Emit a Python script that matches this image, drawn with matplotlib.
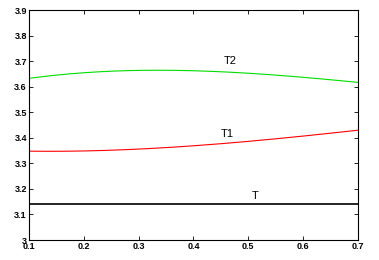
import matplotlib
matplotlib.use("Agg")
from matplotlib import pyplot as plt
import numpy as np

x = [0.1, 0.15, 0.2, 0.25, 0.3, 0.35, 0.4, 0.45, 0.5, 0.55, 0.6, 0.65, 0.7]
t1 = [3.348, 3.347, 3.348, 3.351, 3.356, 3.362, 3.369, 3.377, 3.386, 3.396, 3.406, 3.418, 3.430]
t2 = [3.633, 3.645, 3.654, 3.660, 3.664, 3.665, 3.663, 3.658, 3.652, 3.645, 3.637, 3.627, 3.617]
t_value = 3.1416

xticks = [0.1, 0.2, 0.3, 0.4, 0.5, 0.6, 0.7]
yticks = [3.0, 3.1, 3.2, 3.3, 3.4, 3.5, 3.6, 3.7, 3.8, 3.9]

plt.rcParams["font.family"] = ["Liberation Sans", "DejaVu Sans"]

fig = plt.figure(figsize=(3.79, 2.60), dpi=100)
ax = fig.add_axes([0.0765, 0.0769, 0.868, 0.8846])

# smooth the few read-off points with a cubic fit for drawing
xs = np.linspace(x[0], x[-1], 200)
ax.plot(xs, np.polyval(np.polyfit(x, t2, 3), xs), color="#00dd00", lw=0.8)
ax.plot(xs, np.polyval(np.polyfit(x, t1, 3), xs), color="#ff0000", lw=0.8)
ax.plot([x[0], x[-1]], [t_value, t_value], color="black", lw=1.2)

ax.text(0.467, 3.700, "T2", fontsize=8, ha="center", va="center")
ax.text(0.461, 3.415, "T1", fontsize=8, ha="center", va="center")
ax.text(0.512, 3.173, "T", fontsize=8, ha="center", va="center")

ax.set_xlim(0.1, 0.7)
ax.set_ylim(3.0, 3.9)
ax.set_xticks(xticks)
ax.set_yticks(yticks)
ax.set_xticklabels(["{:g}".format(v) for v in xticks])
ax.set_yticklabels(["{:g}".format(v) for v in yticks])
ax.tick_params(direction="in", top=True, right=True, length=3, width=0.6,
               labelsize=6.5, pad=1.5)
for lab in ax.get_xticklabels() + ax.get_yticklabels():
    lab.set_fontweight("bold")
for s in ax.spines.values():
    s.set_linewidth(0.8)

fig.savefig("out.png", dpi=100)
